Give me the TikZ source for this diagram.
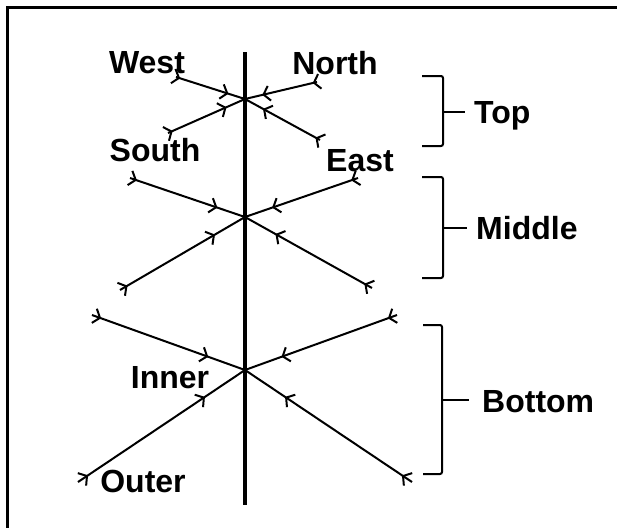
\documentclass[tikz,border=0pt]{standalone}
\usepackage{fontspec}
\setmainfont{Liberation Sans}
\usetikzlibrary{arrows.meta,decorations.markings}
\tikzset{
  every picture/.style={font=\fontsize{32}{36}\selectfont\bfseries},
  frame line/.style={draw, line width=3pt},
  stem line/.style={draw, line width=4pt},
  ray/.style={draw, line width=2pt, postaction={decorate},
    decoration={markings,
      mark=at position 0.06 with {\arrow{Straight Barb[length=6pt,width=15pt]}},
      mark=at position 0.76 with {\arrow{Straight Barb[length=6pt,width=15pt]}}}},
  brace line/.style={draw, line width=2pt, rounded corners=2pt},
  dir label/.style={anchor=base, inner sep=0pt},
  group label/.style={anchor=base west, inner sep=0pt}
}
\begin{document}
\begin{tikzpicture}[x=1pt,y=-1pt]
  \useasboundingbox (0,0) rectangle (617,528);
  \draw[frame line] (617,7.5) -- (7.5,7.5) -- (7.5,528);

  % stem and the three crossings
  \coordinate (stemtop) at (245,52);
  \coordinate (stembot) at (245,505);
  \draw[stem line] (stemtop) -- (stembot);
  \coordinate (topc) at (245,99);
  \coordinate (midc) at (245,217);
  \coordinate (botc) at (245,370);

  % outer ends of the rays
  \foreach \name/\x/\y in {topnw/176/77, topne/317/82, topsw/168/133, topse/320/140,
      midnw/130/178, midne/358/178, midsw/120/290, midse/372/288,
      botnw/92/315, botne/397/315, botsw/78/482, botse/412/482}
    \coordinate (\name) at (\x,\y);
  \foreach \grp in {top,mid,bot}
    \foreach \d in {nw,ne,sw,se}
      \draw[ray] (\grp\d) -- (\grp c);

  % ray names
  \node[dir label] (west) at (147,73) {West};
  \node[dir label] (north) at (335,74) {North};
  \node[dir label] (south) at (155,161) {South};
  \node[dir label] (east) at (360,171) {East};
  \node[dir label] (inner) at (170,388) {Inner};
  \node[dir label] (outer) at (143,492) {Outer};

  % brackets
  \draw[brace line] (422,76) -- (443,76) -- (443,146) -- (422,146);
  \coordinate (topmid) at (443,112);
  \coordinate (toptip) at (465,112);
  \draw[brace line] (topmid) -- (toptip);
  \node[group label] (top) at (474,123) {Top};

  \draw[brace line] (422,177) -- (443,177) -- (443,278) -- (422,278);
  \coordinate (midmid) at (443,228);
  \coordinate (midtip) at (467,228);
  \draw[brace line] (midmid) -- (midtip);
  \node[group label] (middle) at (476,239) {Middle};

  \draw[brace line] (423,325) -- (442,325) -- (442,474) -- (423,474);
  \coordinate (botmid) at (442,400);
  \coordinate (bottip) at (469,400);
  \draw[brace line] (botmid) -- (bottip);
  \node[group label] (bottom) at (482,412) {Bottom};
\end{tikzpicture}
\end{document}
